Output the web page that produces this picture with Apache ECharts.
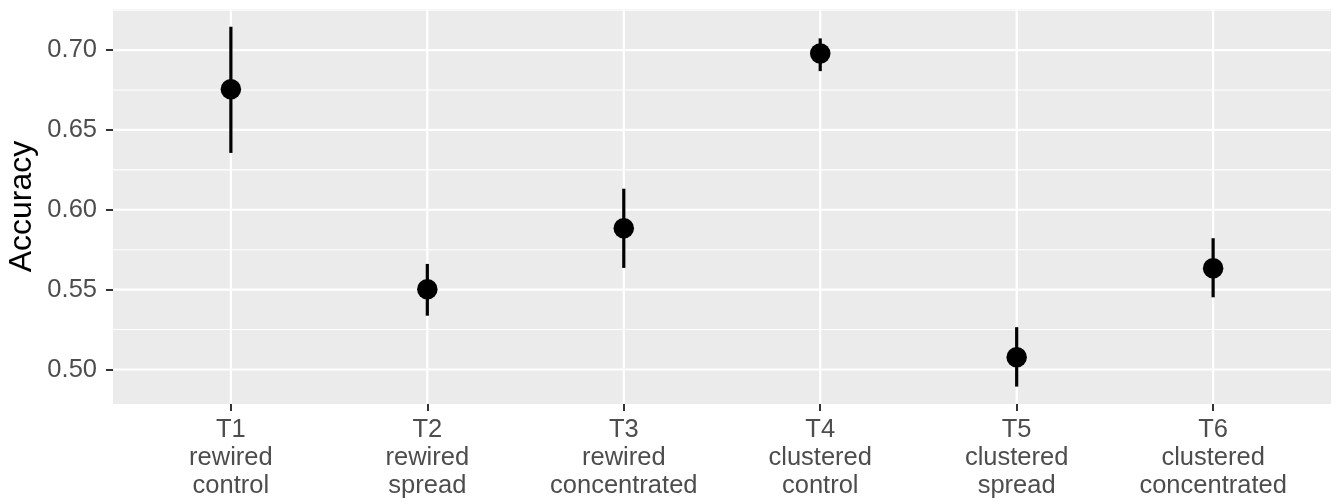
<!DOCTYPE html>
<html>
<head>
<meta charset="utf-8">
<script src="https://cdn.jsdelivr.net/npm/echarts@6/dist/echarts.min.js"></script>
<style>
html,body{margin:0;padding:0;background:#fff;}
#c{width:1338px;height:504px;}
</style>
</head>
<body>
<div id="c"></div>
<script>
const categories = ['T1\nrewired\ncontrol', 'T2\nrewired\nspread', 'T3\nrewired\nconcentrated', 'T4\nclustered\ncontrol', 'T5\nclustered\nspread', 'T6\nclustered\nconcentrated'];
const means = [0.6754, 0.5502, 0.5885, 0.6979, 0.5077, 0.5634];
const lower = [0.6356, 0.5337, 0.5636, 0.6868, 0.4893, 0.5452];
const upper = [0.7146, 0.5661, 0.6132, 0.7073, 0.5265, 0.5822];
const yTicks = [0.50, 0.55, 0.60, 0.65, 0.70];
const yMinor = [0.525, 0.575, 0.625, 0.675, 0.725];
const yRange = [0.4784, 0.7257];
const xRange = [0.4, 6.6];

const xPos = categories.map((c, i) => i + 1);
const font = '"Liberation Sans", Arial, Helvetica, sans-serif';

const chart = echarts.init(document.getElementById('c'), null, {renderer: 'canvas'});

// grid line definitions: [orientation (0 = horizontal, 1 = vertical), value, major?]
const gridDefs = [];
yMinor.forEach(v => gridDefs.push([0, v, 0]));
yTicks.forEach(v => gridDefs.push([0, v, 1]));
xPos.forEach(v => gridDefs.push([1, v, 1]));

chart.setOption({
  animation: false,
  backgroundColor: '#fff',
  grid: {left: 113, right: 7, top: 9, bottom: 100, show: true, backgroundColor: '#EBEBEB', borderWidth: 0,
         containLabel: false, outerBoundsMode: 'none'},
  xAxis: {
    type: 'value', min: xRange[0], max: xRange[1],
    axisLine: {show: false},
    splitLine: {show: false},
    axisTick: {show: true, customValues: xPos, length: 7, lineStyle: {color: '#333', width: 2}},
    axisLabel: {
      customValues: xPos,
      formatter: v => categories[Math.round(v) - 1] || '',
      color: '#4D4D4D', fontFamily: font, fontSize: 25.5, lineHeight: 28, margin: 12, align: 'center',
      hideOverlap: false
    }
  },
  yAxis: {
    type: 'value', min: yRange[0], max: yRange[1],
    name: 'Accuracy', nameLocation: 'middle', nameRotate: 90, nameGap: 75, nameMoveOverlap: false,
    nameTextStyle: {color: '#000', fontFamily: font, fontSize: 32},
    axisLine: {show: false},
    splitLine: {show: false},
    axisTick: {show: true, customValues: yTicks, length: 7, lineStyle: {color: '#333', width: 2}},
    axisLabel: {
      customValues: yTicks,
      formatter: v => v.toFixed(2),
      color: '#4D4D4D', fontFamily: font, fontSize: 25.5, margin: 16
    }
  },
  series: [
    {
      type: 'custom', z: 1, silent: true, clip: true,
      data: gridDefs,
      renderItem: function (params, api) {
        const cs = params.coordSys;
        const vertical = api.value(0) === 1;
        const v = api.value(1);
        const w = api.value(2) ? 2.2 : 1.1;
        let shape;
        if (vertical) {
          const p = api.coord([v, yRange[0]]);
          shape = {x1: p[0], y1: cs.y, x2: p[0], y2: cs.y + cs.height};
        } else {
          const p = api.coord([xRange[0], v]);
          shape = {x1: cs.x, y1: p[1], x2: cs.x + cs.width, y2: p[1]};
        }
        return {type: 'line', shape: shape, style: {stroke: '#fff', lineWidth: w}};
      }
    },
    {
      type: 'custom', z: 3, silent: true,
      data: xPos.map((x, i) => [x, lower[i], upper[i]]),
      renderItem: function (params, api) {
        const a = api.coord([api.value(0), api.value(1)]);
        const b = api.coord([api.value(0), api.value(2)]);
        return {type: 'line', shape: {x1: a[0], y1: a[1], x2: b[0], y2: b[1]}, style: {stroke: '#000', lineWidth: 3.2}};
      }
    },
    {
      type: 'scatter', z: 4, silent: true,
      symbol: 'circle', symbolSize: 20.5,
      itemStyle: {color: '#000', opacity: 1},
      data: xPos.map((x, i) => [x, means[i]])
    }
  ]
});
</script>
</body>
</html>
